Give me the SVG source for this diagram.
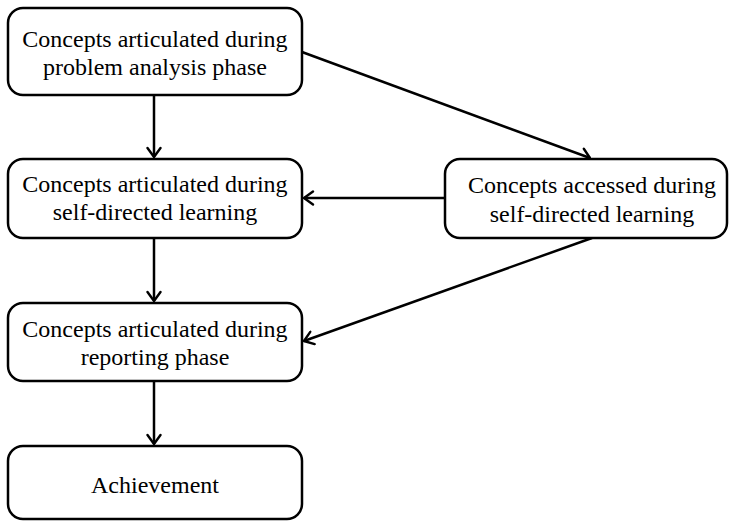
<svg xmlns="http://www.w3.org/2000/svg" width="730" height="523" viewBox="0 0 730 523">
<defs>
<marker id="arr" viewBox="0 0 12 16" refX="11" refY="8" markerWidth="12" markerHeight="16" markerUnits="userSpaceOnUse" orient="auto">
<path d="M2,1.5 L11,8 L2,14.5" fill="none" stroke="#000" stroke-width="2.4" stroke-linecap="round" stroke-linejoin="round"/>
</marker>
</defs>
<style>
.box{fill:#fff;stroke:#000;stroke-width:2.5}
.t{font-family:"Liberation Serif","Times New Roman",serif;font-size:24px;fill:#000;text-anchor:middle}
.c{fill:none;stroke:#000;stroke-width:2.5;marker-end:url(#arr)}
</style>
<rect width="730" height="523" fill="#fff"/>
<g id="connectors">
<line class="c" x1="154" y1="95" x2="154" y2="157"/>
<line class="c" x1="154" y1="238" x2="154" y2="301"/>
<line class="c" x1="154" y1="381" x2="154" y2="444"/>
<line class="c" x1="302" y1="52" x2="590" y2="158"/>
<line class="c" x1="445" y1="198" x2="304" y2="198"/>
<line class="c" x1="592" y1="238" x2="304" y2="341"/>
</g>
<g id="n1">
<rect class="box" x="8" y="8" width="294" height="87" rx="15"/>
<text class="t" x="155" y="47">Concepts articulated during</text>
<text class="t" x="155" y="75">problem analysis phase</text>
</g>
<g id="n2">
<rect class="box" x="8" y="159" width="294" height="79" rx="15"/>
<text class="t" x="155" y="192">Concepts articulated during</text>
<text class="t" x="155" y="220">self-directed learning</text>
</g>
<g id="n3">
<rect class="box" x="8" y="303" width="294" height="78" rx="15"/>
<text class="t" x="155" y="337">Concepts articulated during</text>
<text class="t" x="155" y="365">reporting phase</text>
</g>
<g id="n4">
<rect class="box" x="8" y="446" width="294" height="73" rx="15"/>
<text class="t" x="155" y="493">Achievement</text>
</g>
<g id="n5">
<rect class="box" x="445" y="159" width="282" height="79" rx="15"/>
<text class="t" x="592" y="193">Concepts accessed during</text>
<text class="t" x="592" y="222">self-directed learning</text>
</g>
</svg>
